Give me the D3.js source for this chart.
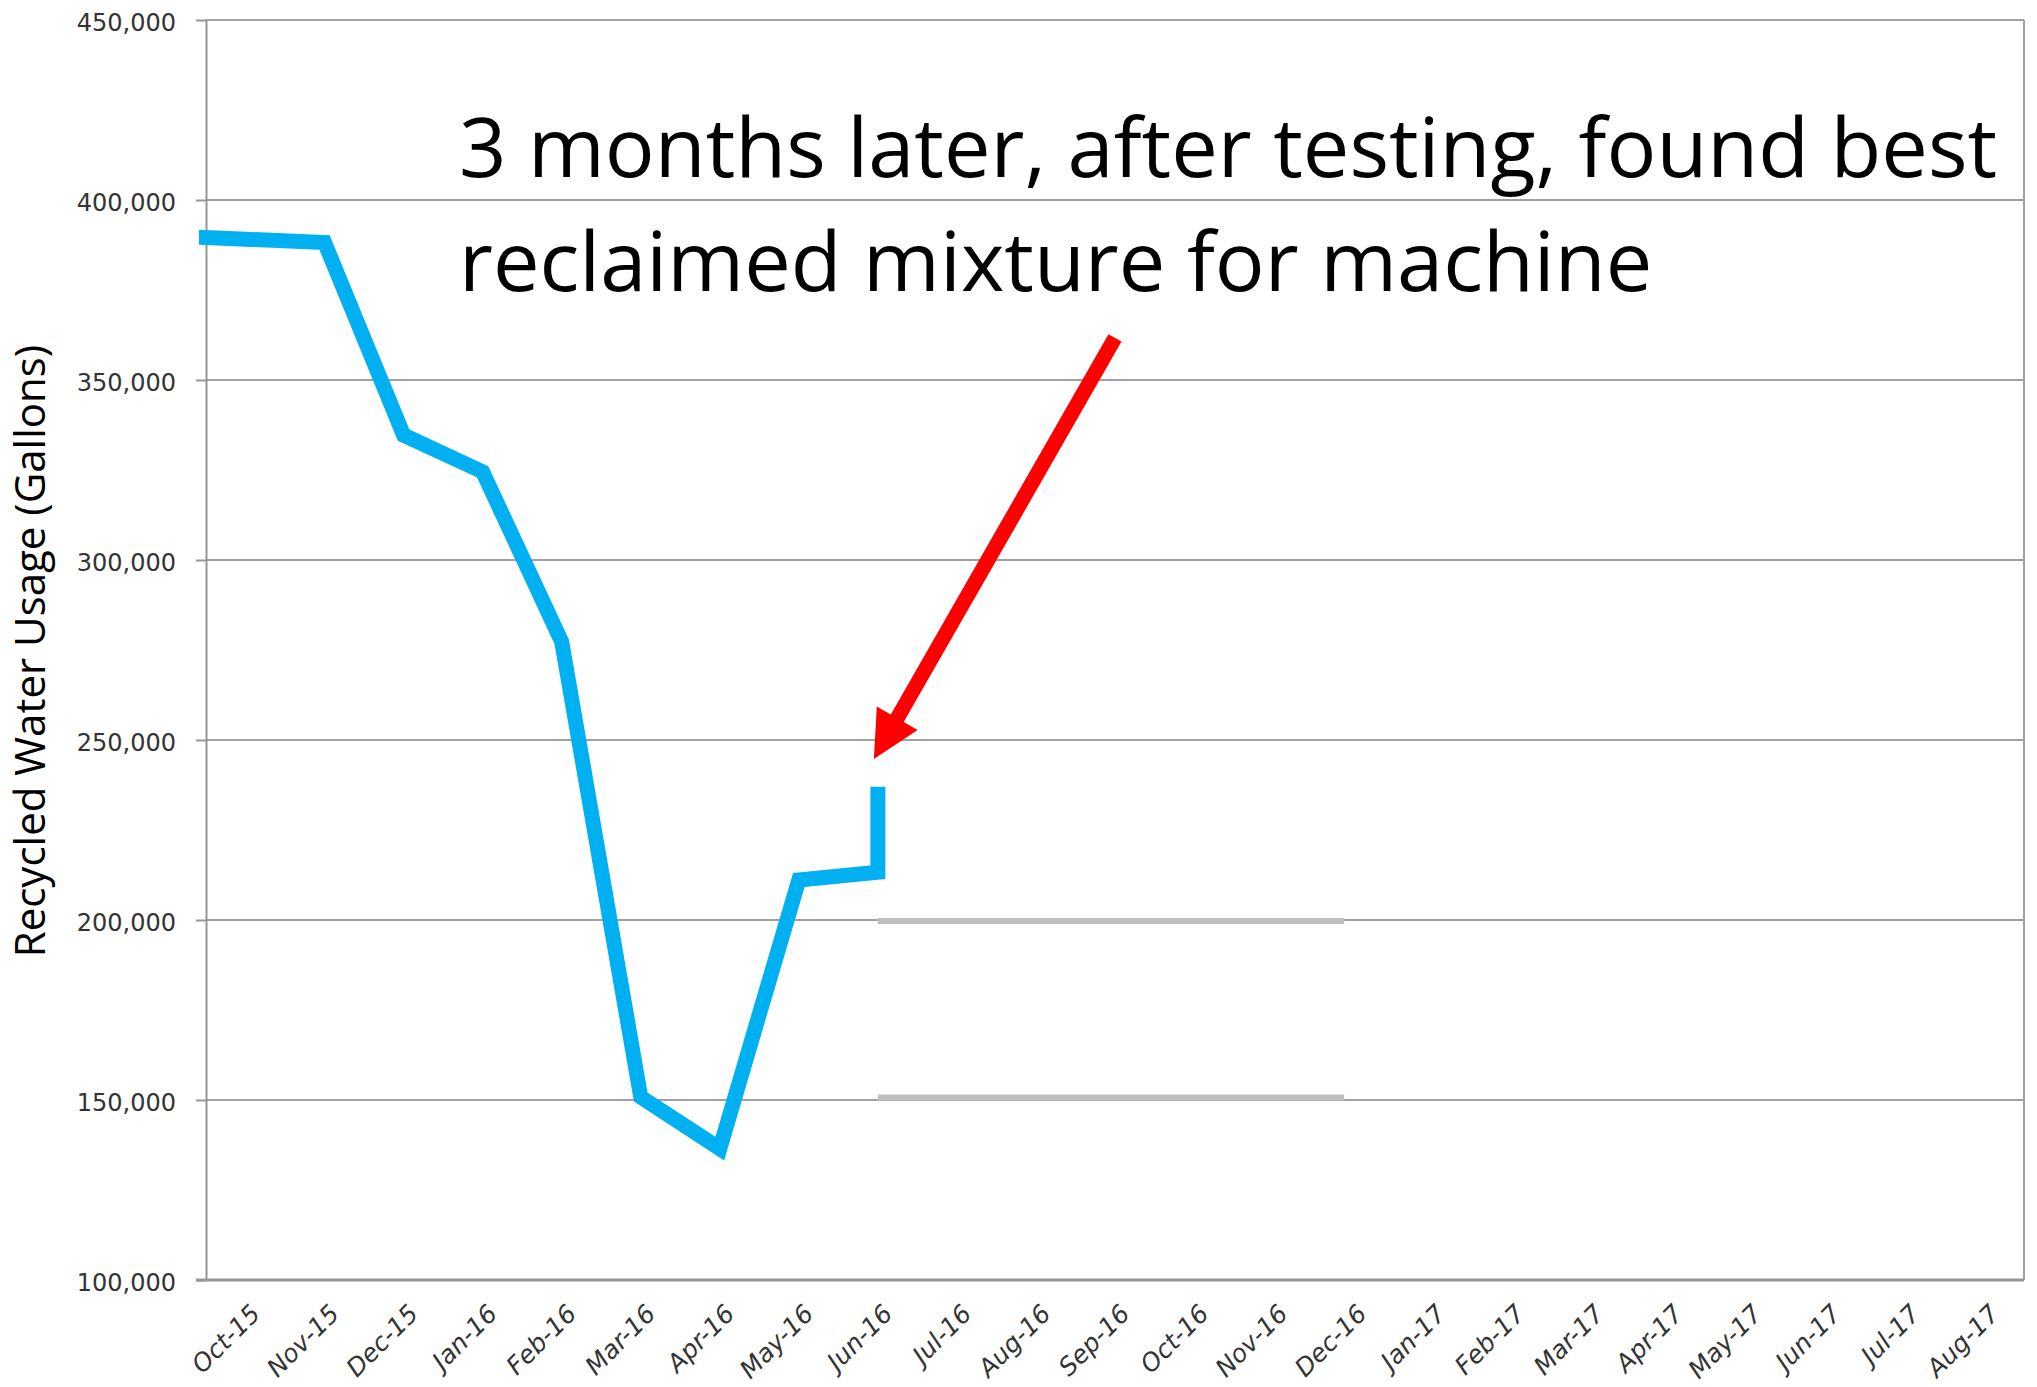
<!DOCTYPE html>
<html>
<head>
<meta charset="utf-8">
<script src="https://cdn.jsdelivr.net/npm/d3@7"></script>
<style>
  body { margin: 0; background: #fff; }
</style>
</head>
<body>
<div id="chart"></div>
<script>
// x axis categories
var months = ["Oct-15", "Nov-15", "Dec-15", "Jan-16", "Feb-16", "Mar-16", "Apr-16", "May-16",
  "Jun-16", "Jul-16", "Aug-16", "Sep-16", "Oct-16", "Nov-16", "Dec-16", "Jan-17", "Feb-17",
  "Mar-17", "Apr-17", "May-17", "Jun-17", "Jul-17", "Aug-17"];

// recycled water usage (gallons) Oct-15 .. Jun-16
var usageMonths = ["Oct-15", "Nov-15", "Dec-15", "Jan-16", "Feb-16", "Mar-16", "Apr-16", "May-16", "Jun-16"];
var usage = [389100, 388200, 334700, 324500, 277300, 150800, 136500, 211100, 213300];

// Sep-15 reading, just off the left edge of the plot
var priorUsage = 390000;

// Jun-16 after the new reclaimed mixture
var retestUsage = 237000;

// grey reference levels Jun-16 .. Dec-16
var refMonths = ["Jun-16", "Dec-16"];
var refLevels = [199700, 150700];

var yTicks = [100000, 150000, 200000, 250000, 300000, 350000, 400000, 450000];

var note = ["3 months later, after testing, found best", "reclaimed mixture for machine"];

// arrow from the note down to the Jun-16 jump
var arrowFrom = { month: "Sep-16", value: 361700 };
var arrowTo = { month: "Jun-16", value: 244700 };

var svgWidth = 2037;
var svgHeight = 1387;

var margin = { top: 20, right: 13, bottom: 107, left: 206 };

var svg = d3.select("#chart")
  .append("svg")
  .attr("width", svgWidth)
  .attr("height", svgHeight)
  .style("display", "block");

svg.append("rect")
  .attr("width", svgWidth)
  .attr("height", svgHeight)
  .attr("fill", "#fff");

var xScale = d3.scaleBand()
  .domain(months)
  .range([margin.left, svgWidth - margin.right]);

var yScale = d3.scaleLinear()
  .domain([100000, 450000])
  .range([svgHeight - margin.bottom, margin.top]);

var xc = m => xScale(m) + xScale.bandwidth() / 2;
var left = margin.left, right = svgWidth - margin.right;
var bottom = svgHeight - margin.bottom;

// gridlines
svg.append("g")
  .selectAll("line")
  .data(yTicks.slice(1))
  .enter()
  .append("line")
  .attr("x1", left)
  .attr("x2", right)
  .attr("y1", d => yScale(d))
  .attr("y2", d => yScale(d))
  .attr("stroke", "#a0a0a0")
  .attr("stroke-width", 2);

// right border
svg.append("line")
  .attr("x1", right).attr("x2", right)
  .attr("y1", margin.top).attr("y2", bottom)
  .attr("stroke", "#a0a0a0")
  .attr("stroke-width", 2);

// y axis
var leftAxis = d3.axisLeft(yScale)
  .tickValues(yTicks)
  .tickFormat(d3.format(","))
  .tickSize(10)
  .tickSizeOuter(0)
  .tickPadding(20);

var yAxis = svg.append("g")
  .attr("transform", `translate(${left}, 0)`)
  .call(leftAxis);
yAxis.selectAll("line, path").attr("stroke", "#969696").attr("stroke-width", 2);
yAxis.selectAll("text")
  .attr("font-family", "DejaVu Sans")
  .attr("font-size", 24)
  .attr("fill", "#333")
  .attr("dy", "0.44em");

// x axis
var bottomAxis = d3.axisBottom(xScale).tickSize(0).tickSizeOuter(0);
var xAxis = svg.append("g")
  .attr("transform", `translate(0, ${bottom})`)
  .call(bottomAxis);
xAxis.select("path").attr("stroke", "#969696").attr("stroke-width", 3)
  .attr("d", `M${left - 10},0H${right}`);
xAxis.selectAll("text")
  .attr("font-family", "DejaVu Sans")
  .attr("font-style", "italic")
  .attr("font-size", 25)
  .attr("fill", "#333")
  .attr("text-anchor", "end")
  .attr("y", 0)
  .attr("dy", "0.35em")
  .attr("transform", "translate(10, 29) rotate(-45)");

// grey reference segments
svg.append("g")
  .selectAll("line")
  .data(refLevels)
  .enter()
  .append("line")
  .attr("x1", xc(refMonths[0]))
  .attr("x2", xc(refMonths[1]) - 8)
  .attr("y1", d => yScale(d))
  .attr("y2", d => yScale(d))
  .attr("stroke", "#bfbfbf")
  .attr("stroke-width", 6);

// usage line, clipped near the axis
svg.append("clipPath")
  .attr("id", "plotClip")
  .append("rect")
  .attr("x", left - 7)
  .attr("y", 0)
  .attr("width", right - left + 7)
  .attr("height", svgHeight);

var points = [[xc(months[0]) - xScale.step(), priorUsage]];
usageMonths.forEach(function(m, i) {
  points.push([xc(m), usage[i]]);
});
points.push([xc("Jun-16"), retestUsage]);

var line = d3.line()
  .x(d => d[0])
  .y(d => yScale(d[1]));

svg.append("path")
  .datum(points)
  .attr("clip-path", "url(#plotClip)")
  .attr("d", line)
  .attr("fill", "none")
  .attr("stroke", "#00b0f0")
  .attr("stroke-width", 15)
  .attr("stroke-linejoin", "miter")
  .attr("stroke-linecap", "butt");

// annotation text
svg.append("text")
  .attr("font-family", "Open Sans")
  .attr("font-size", 83)
  .attr("fill", "#000")
  .selectAll("tspan")
  .data(note)
  .enter()
  .append("tspan")
  .attr("x", 459)
  .attr("y", (d, i) => i === 0 ? 177 : 291)
  .text(d => d);

// red arrow
var tx = xc(arrowFrom.month), ty = yScale(arrowFrom.value);
var px = xc(arrowTo.month) - 4, py = yScale(arrowTo.value);
var len = Math.hypot(px - tx, py - ty);
var ux = (px - tx) / len, uy = (py - ty) / len;
var headLen = 47, headW = 47;
var bx = px - ux * headLen, by = py - uy * headLen;
var nx = -uy, ny = ux;

svg.append("line")
  .attr("x1", tx).attr("y1", ty)
  .attr("x2", bx + ux * 3).attr("y2", by + uy * 3)
  .attr("stroke", "#ff0000")
  .attr("stroke-width", 15);

svg.append("polygon")
  .attr("points", [[px, py], [bx + nx * headW / 2, by + ny * headW / 2], [bx - nx * headW / 2, by - ny * headW / 2]].join(" "))
  .attr("fill", "#ff0000");

// y axis title
svg.append("text")
  .attr("transform", `translate(45, 651) rotate(-90)`)
  .attr("text-anchor", "middle")
  .attr("font-family", "Open Sans")
  .attr("font-size", 42)
  .attr("fill", "#000")
  .text("Recycled Water Usage (Gallons)");
</script>
</body>
</html>
